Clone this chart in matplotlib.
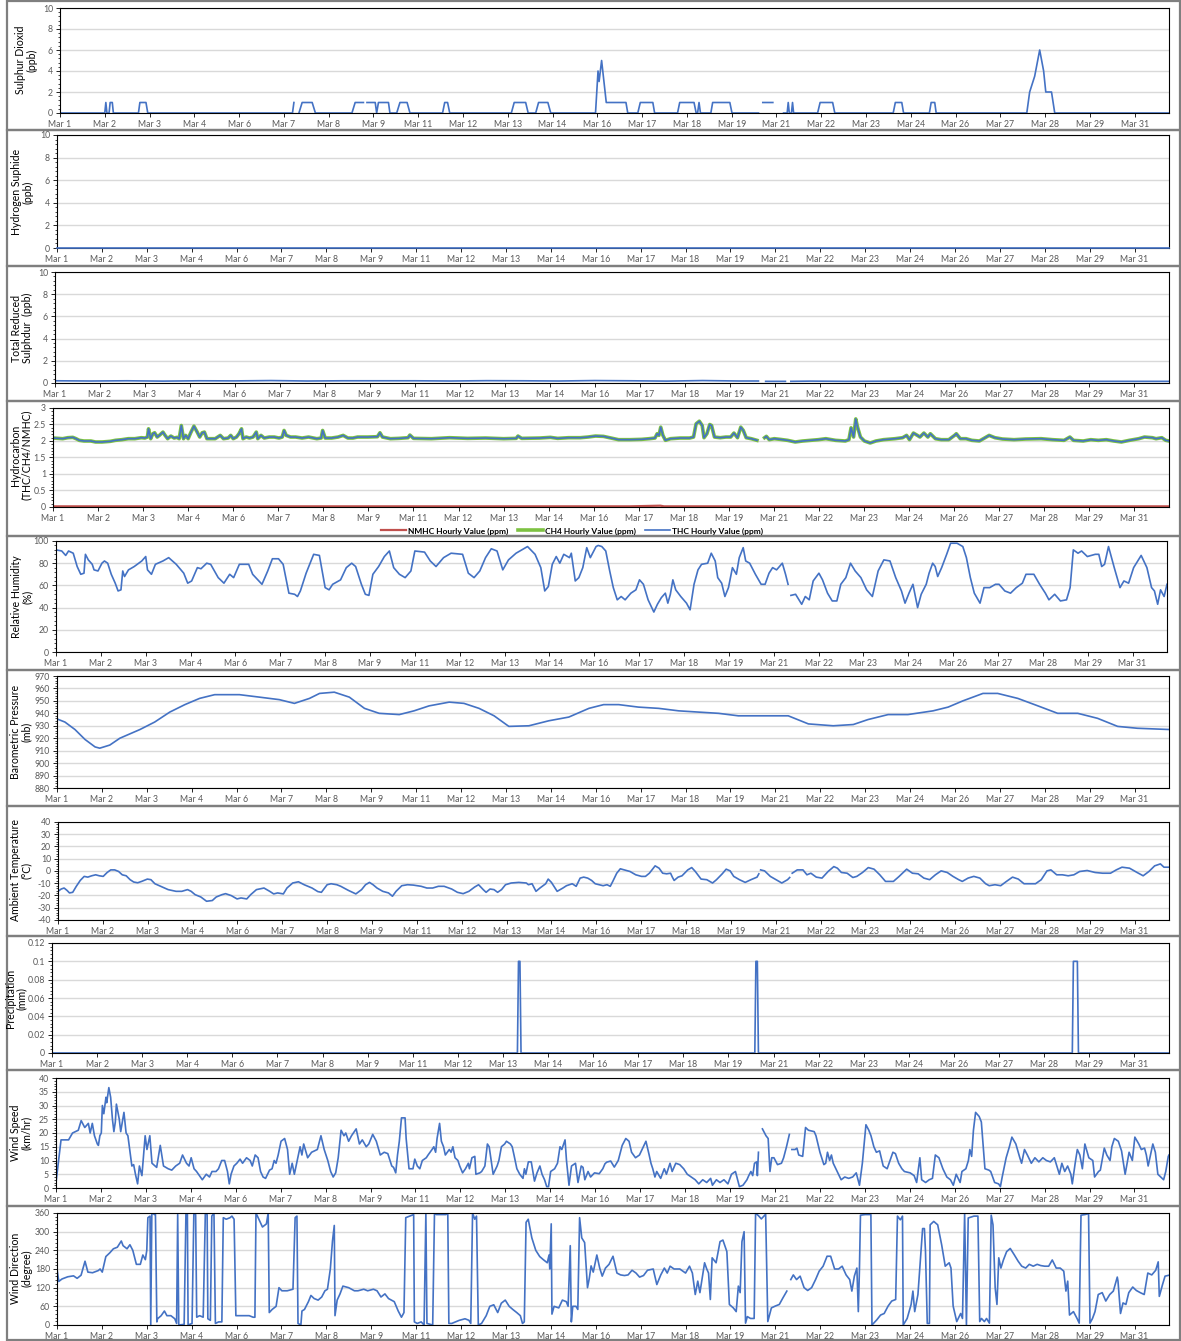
import numpy as np
import matplotlib

matplotlib.use("Agg")
import matplotlib.pyplot as plt
from matplotlib.patches import Rectangle
from matplotlib.ticker import AutoMinorLocator, FuncFormatter

W, H = 1181, 1341
nan = np.nan

# time axis: days since Mar 1 00:00, hourly data up to Mar 31 23:00
X_END = 30.96
TICK_DAYS = [i * 1.25 for i in range(25)]
XTICK_LABELS = ["Mar 1", "Mar 2", "Mar 3", "Mar 4", "Mar 6", "Mar 7", "Mar 8", "Mar 9",
                "Mar 11", "Mar 12", "Mar 13", "Mar 14", "Mar 16", "Mar 17", "Mar 18",
                "Mar 19", "Mar 21", "Mar 22", "Mar 23", "Mar 24", "Mar 26", "Mar 27",
                "Mar 28", "Mar 29", "Mar 31"]

# Sulphur dioxide (ppb)
so2_t = [0, 1.25, 1.28, 1.31, 1.37, 1.40, 1.46, 1.49, 2.19, 2.23, 2.40, 2.45,
         6.49, 6.53, 6.60, 6.67, 6.76, 7.04, 7.13, 8.15, 8.24, 8.47, 8.52, 8.57, 8.80,
         8.84, 8.89, 9.17, 9.21, 9.40, 9.49, 9.69, 9.77, 10.68, 10.74, 10.82, 10.88,
         12.60, 12.68, 13.00, 13.07, 13.28, 13.36, 13.62, 13.70,
         14.95, 15.02, 15.05, 15.12, 15.25, 15.80, 15.85, 16.13, 16.20, 16.55, 16.60,
         17.24, 17.30, 17.70, 17.76, 17.80, 17.84, 17.88, 18.17, 18.22, 18.70, 18.76,
         19.50, 19.56, 19.62, 19.90, 20.00, 20.20, 20.30, 20.33, 20.36, 20.42, 20.45, 20.48,
         21.15, 21.22, 21.57, 21.63, 23.26, 23.32, 23.50, 23.55, 24.27, 24.32, 24.42, 24.46,
         26.99, 27.07, 27.21, 27.35, 27.46, 27.52, 27.68, 27.77, 30.96]
so2_v = [0, 0, 1, 0, 0, 1, 1, 0, 0, 1, 1, 0,
         0, 1, nan, 0, 1, 1, 0, 0, 1, 1, nan, 1, 1,
         0, 1, 1, 0, 0, 1, 1, 0, 0, 1, 1, 0,
         0, 1, 1, 0, 0, 1, 1, 0,
         0, 4, 3, 5, 1, 1, 0, 0, 1, 1, 0,
         0, 1, 1, 0, 0, 1, 0, 0, 1, 1, 0,
         0, nan, 1, 1, nan, 0, 0, 1, 0, 0, 1, 0,
         0, 1, 1, 0, 0, 1, 1, 0, 0, 1, 1, 0,
         0, 2, 3.5, 6, 4, 2, 2, 0, 0]

# Hydrogen sulphide (ppb)
h2s_t = [0, 30.96]
h2s_v = [0, 0]

# Total reduced sulphur (ppb)
trs_t = [0, 1, 2, 3, 4, 5, 6, 7, 8, 9, 10, 11, 12, 13, 14, 15, 16, 17, 18, 19, 19.55,
         19.65, 19.75, 20.30, 20.38, 20.45, 21, 22, 23, 24, 25, 26, 27, 28, 29, 30, 30.96]
trs_v = [0.2, 0.18, 0.2, 0.17, 0.2, 0.19, 0.22, 0.18, 0.2, 0.2, 0.2, 0.18, 0.21, 0.2,
         0.18, 0.22, 0.2, 0.17, 0.22, 0.18, 0.18, nan, 0.15, 0.15, nan, 0.15, 0.17, 0.15,
         0.16, 0.17, 0.15, 0.14, 0.16, 0.18, 0.15, 0.15, 0.15]

# Hydrocarbons (ppm): CH4 and THC sit on top of each other, NMHC near zero
hc_t = [0.00, 0.27, 0.41, 0.55, 0.64, 0.73, 0.86, 1.05, 1.18, 1.36, 1.59, 1.73, 1.91,
        2.09, 2.27, 2.45, 2.55, 2.62, 2.65, 2.71, 2.77, 2.82, 2.89, 2.95, 3.05, 3.11,
        3.18, 3.27, 3.36, 3.44, 3.50, 3.56, 3.62, 3.68, 3.75, 3.82, 3.91, 4.00, 4.07,
        4.14, 4.20, 4.27, 4.38, 4.50, 4.64, 4.73, 4.86, 4.93, 5.00, 5.09, 5.16, 5.23,
        5.27, 5.36, 5.45, 5.55, 5.64, 5.68, 5.77, 5.86, 6.00, 6.14, 6.27, 6.36, 6.41,
        6.47, 6.59, 6.73, 6.91, 7.09, 7.32, 7.44, 7.48, 7.55, 7.73, 7.91, 8.05, 8.18,
        8.32, 8.45, 8.73, 9.00, 9.07, 9.14, 9.27, 9.36, 9.60, 9.85, 9.90, 10.00, 10.50,
        11.00, 11.50, 12.00, 12.50, 12.85, 12.90, 13.00, 13.50, 13.80, 14.00, 14.30,
        14.63, 14.84, 15.05, 15.27, 15.48, 15.69, 16.01, 16.33, 16.54, 16.70, 16.76,
        16.81, 16.86, 16.92, 16.99, 17.13, 17.40, 17.66, 17.77, 17.84, 17.93, 18.01,
        18.06, 18.14, 18.22, 18.27, 18.35, 18.51, 18.67, 18.80, 18.89, 18.99, 19.08,
        19.15, 19.23, 19.37, 19.53, 19.63, 19.74, 19.79, 19.87, 20.01, 20.17, 20.38,
        20.59, 20.80, 21.02, 21.23, 21.44, 21.71, 21.98, 22.08, 22.14, 22.21, 22.27,
        22.32, 22.40, 22.51, 22.67, 22.83, 23.04, 23.36, 23.57, 23.68, 23.76, 23.87,
        23.98, 24.05, 24.16, 24.27, 24.34, 24.48, 24.64, 24.85, 25.01, 25.06, 25.17,
        25.33, 25.49, 25.70, 25.86, 25.97, 26.13, 26.34, 26.66, 26.98, 27.41, 27.73,
        28.05, 28.21, 28.31, 28.58, 28.79, 29.00, 29.22, 29.43, 29.64, 29.86, 30.12,
        30.28, 30.50, 30.60, 30.76, 30.87, 30.96]
hc_v = [2.09, 2.07, 2.10, 2.11, 2.07, 2.02, 2.00, 2.00, 1.97, 1.97, 1.99, 2.02, 2.04,
        2.07, 2.07, 2.10, 2.09, 2.12, 2.37, 2.07, 2.22, 2.25, 2.12, 2.17, 2.27, 2.17,
        2.07, 2.15, 2.09, 2.11, 2.07, 2.47, 2.07, 2.17, 2.07, 2.25, 2.45, 2.27, 2.12,
        2.25, 2.27, 2.07, 2.07, 2.07, 2.17, 2.07, 2.09, 2.17, 2.07, 2.12, 2.22, 2.37,
        2.07, 2.12, 2.09, 2.12, 2.27, 2.07, 2.17, 2.09, 2.12, 2.12, 2.09, 2.12, 2.32,
        2.17, 2.12, 2.12, 2.09, 2.12, 2.07, 2.09, 2.32, 2.09, 2.09, 2.12, 2.17, 2.09,
        2.09, 2.12, 2.12, 2.13, 2.25, 2.12, 2.09, 2.07, 2.08, 2.10, 2.18, 2.08, 2.07,
        2.10, 2.08, 2.09, 2.07, 2.08, 2.15, 2.08, 2.09, 2.11, 2.08, 2.10,
        2.10, 2.12, 2.15, 2.14, 2.09, 2.04, 2.04, 2.05, 2.07, 2.09, 2.22,
        2.17, 2.42, 2.17, 2.02, 2.07, 2.09, 2.09, 2.12, 2.52, 2.60, 2.47,
        2.10, 2.22, 2.50, 2.47, 2.12, 2.10, 2.12, 2.12, 2.24, 2.10, 2.42,
        2.32, 2.10, 2.07, 2.02, nan, 2.10, 2.14, 2.04, 2.07, 2.05, 2.02,
        1.97, 2.00, 2.02, 2.04, 2.07, 2.02, 2.00, 2.04, 2.40, 2.12, 2.67,
        2.42, 2.12, 2.00, 1.94, 2.00, 2.04, 2.07, 2.10, 2.17, 2.04, 2.24,
        2.17, 2.12, 2.24, 2.12, 2.22, 2.07, 2.04, 2.04, 2.17, 2.22, 2.07,
        2.07, 2.02, 2.00, 2.10, 2.17, 2.10, 2.06, 2.04, 2.06, 2.07, 2.04,
        2.02, 2.12, 2.02, 2.00, 2.04, 2.02, 2.04, 2.00, 1.97, 2.02, 2.07,
        2.12, 2.10, 2.07, 2.10, 2.02, 2.00]
nmhc_t = [0, 8, 16, 16.85, 16.95, 24, 30.96]
nmhc_v = [0.02, 0.02, 0.02, 0.04, 0.02, 0.02, 0.02]

# Relative humidity (%)
rh_t = [0.00, 0.16, 0.27, 0.35, 0.48, 0.59, 0.69, 0.78, 0.82, 0.90, 1.01, 1.06, 1.17,
        1.28, 1.35, 1.44, 1.54, 1.65, 1.73, 1.81, 1.86, 1.91, 2.02, 2.18, 2.39, 2.50,
        2.55, 2.66, 2.77, 2.98, 3.14, 3.35, 3.56, 3.67, 3.78, 3.94, 4.04, 4.20, 4.31,
        4.52, 4.68, 4.84, 4.95, 5.11, 5.37, 5.48, 5.74, 5.90, 6.03, 6.20, 6.33, 6.49,
        6.65, 6.73, 6.81, 6.97, 7.18, 7.34, 7.50, 7.61, 7.71, 7.82, 7.93, 8.09, 8.24,
        8.35, 8.51, 8.62, 8.72, 8.83, 8.99, 9.15, 9.29, 9.41, 9.57, 9.73, 9.89, 10.00,
        10.27, 10.43, 10.59, 10.80, 11.01, 11.33, 11.49, 11.65, 11.81, 11.97, 12.13,
        12.29, 12.45, 12.61, 12.82, 13.14, 13.35, 13.51, 13.62, 13.72, 13.83, 13.94,
        14.04, 14.15, 14.31, 14.36, 14.47, 14.57, 14.68, 14.79, 14.89, 15.05,
        15.11, 15.21, 15.32, 15.43, 15.53, 15.64, 15.75, 15.86, 16.02, 16.16, 16.26,
        16.37, 16.50, 16.66, 16.76, 16.87, 16.98, 17.05, 17.12, 17.19, 17.27, 17.41,
        17.57, 17.67, 17.78, 17.89, 17.99, 18.16, 18.26, 18.37, 18.44, 18.55, 18.64,
        18.74, 18.85, 18.96, 19.04, 19.15, 19.22, 19.33, 19.49, 19.65, 19.76, 19.87,
        19.97, 20.08, 20.24, 20.33, 20.40, 20.44, 20.48, 20.61, 20.78, 20.88, 20.99,
        21.10, 21.26, 21.36, 21.50, 21.63, 21.76, 21.87, 22.01, 22.14, 22.27, 22.43,
        22.59, 22.75, 22.91, 23.07, 23.24, 23.40, 23.56, 23.66, 23.77, 23.88, 24.01,
        24.11, 24.25, 24.33, 24.43, 24.50, 24.57, 24.68, 24.82, 24.93, 25.11, 25.27,
        25.37, 25.48, 25.59, 25.75, 25.86, 26.02, 26.18, 26.28, 26.44, 26.60, 26.76,
        26.93, 27.03, 27.25, 27.41, 27.57, 27.67, 27.83, 27.99, 28.16, 28.26, 28.35,
        28.48, 28.58, 28.74, 28.96, 29.06, 29.14, 29.22, 29.33, 29.49, 29.65, 29.76,
        29.89, 30.03, 30.24, 30.40, 30.53, 30.61, 30.70, 30.78, 30.88, 30.96]
rh_v = [92, 91, 87, 91, 89, 77, 70, 71, 88, 83, 79, 74, 73,
        80, 82, 80, 70, 62, 55, 56, 73, 68, 74, 77, 82, 86,
        74, 70, 79, 82, 85, 79, 71, 62, 64, 76, 75, 80, 79,
        67, 62, 70, 67, 79, 79, 70, 61, 73, 84, 84, 79, 53,
        52, 50, 55, 71, 88, 87, 58, 56, 61, 63, 65, 76, 80,
        77, 61, 52, 51, 70, 77, 86, 91, 76, 70, 67, 73, 91,
        90, 82, 77, 85, 89, 88, 71, 67, 73, 85, 93,
        91, 74, 83, 89, 95, 88, 76, 55, 59, 79, 86,
        80, 88, 85, 89, 64, 67, 76, 94, 85, 95,
        96, 95, 91, 73, 58, 47, 50, 47, 53, 56, 65,
        61, 47, 36, 43, 49, 53, 44, 52, 65, 56, 50,
        44, 38, 61, 74, 79, 80, 89, 82, 67, 62, 50,
        58, 76, 70, 85, 94, 82, 80, 70, 61, 61, 71,
        76, 74, 80, 70, 61, nan, 51, 52, 43, 50, 47,
        64, 71, 65, 53, 46, 46, 61, 67, 80, 73, 67,
        56, 50, 73, 83, 82, 67, 55, 44, 53, 61, 40,
        52, 61, 71, 80, 77, 68, 76, 88, 98, 98, 95,
        85, 67, 53, 44, 58, 58, 61, 61, 55, 53, 58,
        62, 70, 70, 61, 53, 47, 52, 46, 47, 58, 92,
        89, 91, 86, 88, 88, 77, 79, 95, 76, 58, 64,
        62, 76, 87, 76, 58, 55, 43, 56, 50, 61]

# Barometric pressure (mb)
bp_t = [0, 0.22, 0.50, 0.78, 1.06, 1.19, 1.47, 1.75, 2.31, 2.72, 3.14, 3.56, 3.97,
        4.39, 5.08, 5.64, 6.19, 6.61, 7.03, 7.31, 7.72, 8.14, 8.56, 8.97, 9.53, 9.94,
        10.36, 10.92, 11.33, 11.75, 12.17, 12.58, 13.14, 13.69, 14.25, 14.81, 15.22,
        15.64, 16.19, 16.75, 17.31, 17.86, 18.42, 18.97, 19.67, 20.36, 20.92, 21.61,
        22.17, 22.58, 23.14, 23.69, 24.39, 24.81, 25.22, 25.78, 26.19, 26.75, 27.31,
        27.86, 28.42, 28.97, 29.53, 30.08, 30.96]
bp_v = [935.5, 933, 927, 919, 913, 912, 914.5, 920, 927, 933, 941, 947, 952,
        955, 955, 953, 951, 948, 952, 956, 957, 953, 944, 940, 939, 942,
        946, 949, 948, 944, 938, 929.5, 930, 934, 937, 944, 947,
        947, 945, 944, 942, 941, 940, 938, 938, 938, 931.5, 930,
        931, 935, 939, 939, 942, 945, 950, 956, 956, 952, 946,
        940, 940, 936, 929.5, 928, 927]

# Ambient temperature (deg C)
temp_t = [0, 0.09, 0.17, 0.25, 0.32, 0.41, 0.51, 0.62, 0.73, 0.83, 0.94, 1.05, 1.15,
          1.26, 1.37, 1.47, 1.58, 1.69, 1.79, 1.90, 2.01, 2.11, 2.22, 2.33, 2.49, 2.59,
          2.70, 2.86, 3.07, 3.29, 3.45, 3.61, 3.71, 3.82, 3.98, 4.14, 4.30, 4.41, 4.57,
          4.67, 4.83, 4.99, 5.10, 5.26, 5.37, 5.53, 5.74, 5.90, 6.01, 6.12, 6.28, 6.38,
          6.54, 6.70, 6.86, 7.08, 7.24, 7.34, 7.50, 7.61, 7.77, 7.88, 8.09, 8.30, 8.46,
          8.57, 8.68, 8.78, 8.89, 9.05, 9.21, 9.32, 9.42, 9.58, 9.74, 9.90, 10.12, 10.28,
          10.44, 10.60, 10.76, 10.97, 11.13, 11.29, 11.45, 11.61, 11.72, 11.85, 11.93,
          12.04, 12.15, 12.25, 12.36, 12.47, 12.63, 12.84, 13.05, 13.11, 13.21, 13.32,
          13.43, 13.59, 13.66, 13.75, 13.91, 14.07, 14.17, 14.33, 14.44, 14.55, 14.65,
          14.76, 14.87, 14.97, 15.08, 15.19, 15.30, 15.39, 15.46, 15.57, 15.67, 15.78,
          15.94, 16.10, 16.26, 16.37, 16.48, 16.64, 16.75, 16.85, 16.96, 17.07, 17.12,
          17.17, 17.28, 17.39, 17.55, 17.66, 17.76, 17.92, 18.08, 18.24, 18.35, 18.51,
          18.62, 18.73, 18.83, 18.99, 19.15, 19.31, 19.48, 19.53, 19.555, 19.58, 19.69,
          19.85, 20.01, 20.17, 20.33, 20.39, 20.425, 20.46, 20.60, 20.76, 20.87, 20.98,
          21.13, 21.29, 21.46, 21.62, 21.72, 21.83, 21.99, 22.15, 22.26, 22.42, 22.58,
          22.74, 22.90, 23.06, 23.28, 23.44, 23.65, 23.81, 23.97, 24.13, 24.29, 24.45,
          24.61, 24.78, 24.94, 25.10, 25.20, 25.36, 25.52, 25.69, 25.85, 25.95, 26.11,
          26.27, 26.43, 26.60, 26.76, 26.92, 27.08, 27.24, 27.40, 27.56, 27.67, 27.83,
          27.99, 28.15, 28.31, 28.47, 28.68, 28.90, 29.11, 29.33, 29.49, 29.65, 29.86,
          30.07, 30.24, 30.40, 30.56, 30.72, 30.82, 30.96]
temp_v = [-16.6, -14.7, -13.9, -15.8, -17.9, -17.4, -12.5, -7.7, -4.4, -5.0, -3.9, -3.1, -3.9,
          -4.4, -1.2, 0.9, 0.9, -0.4, -3.1, -3.9, -7.1, -9.0, -9.6, -8.5, -6.6, -7.1,
          -10.4, -12.5, -15.2, -16.6, -16.6, -15.2, -16.6, -19.3, -21.2, -24.7, -24.1, -21.2, -19.3,
          -18.5, -20.1, -22.8, -22.0, -22.8, -19.3, -15.2, -13.9, -16.6, -18.7, -17.9, -18.7, -13.9,
          -9.8, -8.8, -11.2, -13.9, -16.8, -17.4, -11.2, -10.4, -11.2, -12.5, -15.8, -18.7, -15.2,
          -11.2, -9.3, -11.2, -13.9, -16.6, -17.9, -20.6, -16.6, -12.0, -11.2, -11.5, -12.5, -13.9,
          -13.9, -12.5, -12.5, -14.7, -17.4, -18.5, -16.6, -13.1, -11.2, -15.2, -17.4,
          -14.7, -15.2, -17.4, -15.2, -11.2, -9.8, -9.3, -9.8, -11.2, -10.4, -16.6,
          -13.9, -10.4, -6.6, -9.3, -16.6, -13.9, -12.0, -10.4, -12.5, -5.8, -5.0,
          -5.8, -7.7, -10.4, -11.2, -12.0, -11.2, -12.5, -8.5, -1.8, 1.8, 0.9,
          -0.4, -3.1, -4.4, -4.4, -1.8, 4.2, 2.3, -1.8, -2.3, -1.8, -5.0,
          -7.7, -5.0, -3.9, 0.9, 2.8, -0.4, -6.6, -7.1, -9.8, -7.1, -2.3,
          1.5, 0.1, -4.4, -7.1, -9.3, -7.1, -5.0, -2.3, nan, 0.9, 0.1,
          -4.4, -7.1, -9.8, -7.1, -5.3, nan, -1.8, 0.9, 0.9, -3.1, -1.8,
          -5.0, -5.8, -0.4, 3.6, 2.3, -1.2, -1.8, -5.3, -4.4, -1.2, 2.8,
          1.5, -3.1, -8.5, -8.5, -4.4, 1.5, -1.8, -2.3, -5.8, -7.1, -3.1,
          0.1, -1.2, -4.4, -7.1, -8.5, -5.8, -4.4, -5.8, -10.4, -12.0, -11.2,
          -12.0, -8.5, -5.0, -6.6, -10.4, -10.4, -10.4, -7.1, 0.1, 0.9, -3.1,
          -3.1, -3.9, -3.1, -0.4, 0.4, -1.2, -1.8, -1.8, 0.9, 3.1, 2.3,
          -1.2, -3.9, -0.4, 4.2, 5.8, 3.1, 3.1]

# Precipitation (mm)
precip_t = [0, 12.90, 12.93, 12.97, 13.00, 19.48, 19.51, 19.55, 19.58,
            28.28, 28.31, 28.42, 28.45, 30.96]
precip_v = [0, 0, 0.1, 0.1, 0, 0, 0.1, 0.1, 0, 0, 0.1, 0.1, 0, 0]

# Wind speed (km/hr)
ws_t = [0.00, 0.14, 0.35, 0.46, 0.62, 0.70, 0.80, 0.90, 0.95, 1.01, 1.07, 1.15, 1.18,
        1.22, 1.26, 1.29, 1.33, 1.39, 1.41, 1.47, 1.52, 1.57, 1.61, 1.65, 1.68, 1.76,
        1.80, 1.89, 1.95, 2.00, 2.11, 2.16, 2.21, 2.27, 2.32, 2.39, 2.48, 2.53, 2.61,
        2.67, 2.80, 2.90, 2.99, 3.12, 3.22, 3.33, 3.44, 3.52, 3.63, 3.70, 3.76, 3.84,
        3.91, 4.07, 4.18, 4.27, 4.34, 4.45, 4.52, 4.61, 4.69, 4.77, 4.82, 4.87, 4.95,
        5.03, 5.12, 5.19, 5.30, 5.40, 5.46, 5.54, 5.62, 5.69, 5.76, 5.83, 5.94, 6.01,
        6.07, 6.12, 6.18, 6.26, 6.36, 6.44, 6.50, 6.57, 6.63, 6.71, 6.79, 6.84, 6.89,
        7.00, 7.11, 7.27, 7.37, 7.46, 7.56, 7.64, 7.71, 7.78, 7.85, 7.93, 8.01, 8.06,
        8.14, 8.22, 8.35, 8.44, 8.52, 8.63, 8.70, 8.81, 8.91, 9.02, 9.13, 9.23, 9.34,
        9.39, 9.45, 9.50, 9.55, 9.61, 9.71, 9.74, 9.82, 9.93, 9.98, 10.05, 10.12, 10.19,
        10.30, 10.35, 10.46, 10.51, 10.56, 10.60, 10.67, 10.72, 10.78, 10.83, 10.94,
        10.99, 11.04, 11.10, 11.18, 11.23, 11.31, 11.39, 11.47, 11.50, 11.57, 11.65,
        11.68, 11.79, 11.84, 11.93, 12.00, 12.05, 12.16, 12.27, 12.32, 12.39, 12.48,
        12.53, 12.64, 12.69, 12.74, 12.82, 12.90, 12.99, 13.03, 13.07, 13.14, 13.22,
        13.31, 13.38, 13.46, 13.52, 13.59, 13.65, 13.70, 13.76, 13.87, 13.95, 14.02,
        14.07, 14.16, 14.20, 14.27, 14.34, 14.45, 14.52, 14.61, 14.66, 14.71, 14.80,
        14.87, 14.98, 15.11, 15.21, 15.27, 15.32, 15.43, 15.53, 15.64, 15.75, 15.85,
        15.94, 16.01, 16.12, 16.23, 16.34, 16.41, 16.50, 16.55, 16.60, 16.66, 16.71,
        16.82, 16.92, 16.98, 17.08, 17.14, 17.24, 17.35, 17.46, 17.56, 17.78, 17.88,
        17.99, 18.10, 18.21, 18.26, 18.37, 18.47, 18.58, 18.69, 18.79, 18.90, 19.01,
        19.11, 19.22, 19.27, 19.33, 19.38, 19.43, 19.49, 19.51, 19.54, 19.60, 19.65,
        19.75, 19.81, 19.86, 19.91, 19.97, 20.07, 20.18, 20.24, 20.32, 20.40, 20.44,
        20.47, 20.56, 20.61, 20.66, 20.77, 20.85, 20.93, 21.09, 21.14, 21.25, 21.30,
        21.36, 21.41, 21.46, 21.52, 21.57, 21.62, 21.73, 21.84, 21.94, 22.05, 22.16,
        22.26, 22.35, 22.43, 22.53, 22.61, 22.67, 22.75, 22.82, 22.91, 23.01, 23.12,
        23.28, 23.35, 23.44, 23.53, 23.60, 23.76, 23.87, 23.94, 24.03, 24.08, 24.19,
        24.29, 24.38, 24.46, 24.56, 24.67, 24.78, 24.88, 24.96, 25.04, 25.15, 25.20,
        25.31, 25.38, 25.42, 25.47, 25.52, 25.58, 25.68, 25.74, 25.84, 25.95, 26.00,
        26.11, 26.22, 26.27, 26.32, 26.43, 26.52, 26.59, 26.70, 26.81, 26.86, 26.94,
        27.02, 27.13, 27.23, 27.34, 27.45, 27.55, 27.66, 27.77, 27.91, 27.98, 28.06,
        28.14, 28.23, 28.27, 28.35, 28.41, 28.48, 28.55, 28.62, 28.73, 28.84, 28.89,
        29.00, 29.05, 29.16, 29.23, 29.32, 29.37, 29.44, 29.55, 29.64, 29.74, 29.85,
        29.94, 30.01, 30.12, 30.19, 30.28, 30.33, 30.38, 30.51, 30.58, 30.65, 30.73,
        30.81, 30.87, 30.94, 30.96]
ws_v = [2, 17.5, 17.5, 20, 21, 24.5, 22, 23.5, 20, 23.5, 19, 16, 15.5,
        19, 20, 30, 27, 33, 31, 36.5, 33, 25, 20.5, 24, 30.5, 25,
        20.5, 27.5, 20, 19, 8, 8.5, 5, 1.5, 8, 4.5, 19, 14, 19,
        9, 7.5, 15.5, 8, 7, 6.5, 8, 9, 12, 9, 8, 11, 7,
        6, 3, 5, 4, 6, 6, 7, 10, 10, 6, 1.5, 5, 8,
        9, 10.5, 9, 11, 10, 8, 12, 11, 6, 4, 3.5, 6.5, 7,
        10, 9, 12, 17, 18, 14, 5, 9, 5, 10, 15, 12, 16,
        11, 13, 14, 19, 14, 10, 6, 4, 5.5, 11, 21, 19, 20,
        17, 19, 21.5, 16, 17.5, 15, 16, 19.5, 17, 12, 13, 12.5, 8,
        7.5, 5.5, 12, 17, 25.5, 25.5, 18, 7, 7, 10.5, 8, 7, 10,
        11, 12, 14, 15, 13, 18, 23.5, 17, 15, 12, 14,
        13, 15, 11, 10, 8, 5.5, 7, 9, 7, 11, 11.5,
        5, 5.5, 6, 8, 16, 15, 5, 8, 10, 15, 16,
        17, 16, 15, 12, 7, 5, 3.5, 7, 5, 9.5, 9.5,
        2.5, 5.5, 8, 5, 3, 0.5, 0.5, 6, 7, 9, 15,
        14, 17.5, 10, 1, 8, 9, 2, 8, 7.5, 3, 6,
        4, 5.5, 5.2, 7, 8.8, 9.4, 9.8, 7.6, 10, 15.5, 18,
        17, 13, 11, 12, 15, 17, 12, 9, 7, 4, 6,
        3.5, 7, 5, 9, 6, 9, 8.5, 7, 5, 3, 1.5,
        3, 2, 3.5, 1, 3, 2, 3, 1.5, 5, 6, 0.5,
        1, 3, 4.5, 6, 4.5, 9, 9.5, 4.5, 13, nan, 21.5,
        19, 18, 6, 11, 11, 8.5, 9, 11, 15, 19.5, nan,
        14, 14, 14.5, 12, 11.5, 22, 21, 20.5, 19, 13, 11,
        8.5, 9, 13, 10, 12, 9, 6, 3, 4, 3.5, 4,
        5.5, 1, 9, 23, 21, 19, 15, 13, 13.5, 8, 7,
        13, 12.5, 9, 7, 6, 5.5, 4.5, 2, 11, 3, 2,
        3, 3.5, 12, 11, 7, 4, 3, 1, 5, 2, 6,
        7, 10, 14, 11.5, 21, 27.5, 26, 24, 7, 6.5, 6,
        2, 1.5, 0.5, 4, 11, 15, 18.5, 16, 11, 9, 14,
        12, 9, 11, 9.5, 11, 10, 9.5, 11, 5, 9, 6,
        8, 5, 1.5, 9, 14, 12, 7, 16, 11, 10, 4,
        6, 6.5, 14.5, 12, 10, 15, 18, 17, 13.5, 5, 13,
        10, 18.5, 16, 14, 14.5, 12, 8, 16, 13, 5, 4,
        3, 6, 11.5, 12]

# Wind direction (degree)
wd_t = [0.00, 0.05, 0.14, 0.30, 0.46, 0.56, 0.67, 0.78, 0.86, 0.99, 1.15, 1.20, 1.26,
        1.36, 1.47, 1.57, 1.68, 1.79, 1.84, 1.95, 2.03, 2.11, 2.21, 2.32, 2.39, 2.46,
        2.50, 2.53, 2.59, 2.61, 2.64, 2.67, 2.71, 2.74, 2.78, 2.80, 2.90, 2.99, 3.06,
        3.17, 3.28, 3.33, 3.36, 3.39, 3.54, 3.59, 3.63, 3.65, 3.76, 3.81, 3.86, 3.89,
        3.97, 4.07, 4.13, 4.18, 4.20, 4.27, 4.31, 4.37, 4.41, 4.50, 4.59, 4.63, 4.71,
        4.82, 4.87, 4.93, 4.98, 5.09, 5.24, 5.35, 5.46, 5.51, 5.54, 5.62, 5.72, 5.83,
        5.88, 5.91, 5.99, 6.10, 6.18, 6.26, 6.41, 6.57, 6.63, 6.68, 6.71, 6.79, 6.82,
        6.89, 7.00, 7.07, 7.16, 7.27, 7.37, 7.46, 7.53, 7.61, 7.67, 7.72, 7.74, 7.80,
        7.88, 7.96, 8.12, 8.28, 8.38, 8.54, 8.65, 8.81, 8.91, 9.02, 9.13, 9.23, 9.39,
        9.50, 9.59, 9.66, 9.71, 9.82, 9.93, 9.95, 10.03, 10.14, 10.22, 10.27, 10.30,
        10.46, 10.51, 10.56, 10.83, 10.88, 10.91, 10.99, 11.20, 11.36, 11.47, 11.52,
        11.57, 11.63, 11.68, 11.73, 11.82, 11.95, 12.05, 12.16, 12.27, 12.37, 12.48,
        12.59, 12.69, 12.80, 12.90, 12.96, 13.01, 13.06, 13.12, 13.22, 13.33, 13.44,
        13.54, 13.65, 13.70, 13.72, 13.76, 13.78, 13.84, 13.97, 14.07, 14.18, 14.23,
        14.29, 14.32, 14.36, 14.45, 14.50, 14.55, 14.61, 14.69, 14.77, 14.82, 14.87,
        14.93, 15.03, 15.11, 15.18, 15.27, 15.37, 15.48, 15.59, 15.69, 15.80, 15.90,
        16.01, 16.12, 16.22, 16.33, 16.44, 16.60, 16.70, 16.81, 16.91, 16.99, 17.07,
        17.18, 17.34, 17.50, 17.61, 17.69, 17.77, 17.84, 17.90, 17.95, 18.03, 18.09,
        18.14, 18.19, 18.24, 18.35, 18.46, 18.54, 18.65, 18.72, 18.83, 18.91, 18.97,
        19.02, 19.07, 19.13, 19.17, 19.22, 19.31, 19.41, 19.45, 19.54, 19.61, 19.68,
        19.73, 19.79, 19.89, 20.00, 20.11, 20.21, 20.32, 20.38, 20.43, 20.50, 20.59,
        20.69, 20.80, 20.90, 21.01, 21.12, 21.22, 21.33, 21.44, 21.54, 21.65, 21.76,
        21.86, 21.97, 22.07, 22.13, 22.20, 22.27, 22.31, 22.34, 22.37, 22.50, 22.66,
        22.69, 22.82, 22.93, 23.03, 23.14, 23.24, 23.35, 23.40, 23.48, 23.54, 23.56,
        23.67, 23.78, 23.83, 23.88, 23.97, 24.10, 24.15, 24.18, 24.23, 24.29, 24.31,
        24.41, 24.52, 24.63, 24.73, 24.84, 24.89, 24.95, 25.05, 25.16, 25.21, 25.27,
        25.32, 25.37, 25.53, 25.64, 25.69, 25.74, 25.82, 25.88, 25.96, 26.01, 26.06,
        26.12, 26.17, 26.22, 26.28, 26.35, 26.44, 26.54, 26.65, 26.76, 26.86, 26.97,
        27.07, 27.18, 27.29, 27.39, 27.50, 27.61, 27.71, 27.82, 27.93, 28.03, 28.09,
        28.14, 28.19, 28.30, 28.40, 28.46, 28.51, 28.62, 28.72, 28.76, 28.83, 28.90,
        28.99, 29.10, 29.20, 29.31, 29.41, 29.52, 29.54, 29.61, 29.68, 29.76, 29.84,
        29.95, 30.05, 30.16, 30.27, 30.37, 30.48, 30.59, 30.66, 30.69, 30.78, 30.85,
        30.96]
wd_v = [180, 140, 148, 155, 158, 150, 160, 205, 170, 168, 175, 180, 170,
        220, 232, 245, 250, 270, 255, 245, 258, 240, 195, 195, 225, 210,
        240, 345, 350, 0, 355, 360, 355, 360, 10, 20, 30, 45, 30,
        30, 20, 5, 355, 0, 2, 360, 360, 0, 5, 360, 355, 25,
        30, 25, 360, 355, 20, 15, 350, 360, 5, 10, 10, 345, 340,
        345, 350, 340, 30, 30, 30, 30, 25, 25, 360, 340, 315, 325,
        360, 40, 50, 60, 120, 110, 110, 115, 345, 350, 5, 0, 45,
        50, 75, 95, 85, 80, 90, 110, 115, 180, 270, 320, 30, 80,
        100, 125, 120, 110, 110, 115, 110, 115, 110, 90, 100, 85, 75,
        45, 25, 40, 345, 350, 355, 10, 5, 10, 0, 360, 5,
        0, 360, 355, 355, 360, 5, 5, 15, 20, 15, 5,
        360, 340, 350, 0, 5, 30, 60, 65, 40, 70, 80,
        60, 50, 40, 30, 5, 10, 330, 340, 280, 240, 220,
        210, 200, 225, 180, 325, 35, 60, 55, 80, 75, 60,
        255, 10, 60, 60, 50, 345, 280, 265, 120, 150, 190,
        170, 225, 183, 157, 183, 195, 221, 167, 161, 159, 161,
        176, 167, 154, 159, 176, 180, 130, 161, 183, 167, 189,
        180, 180, 167, 189, 167, 98, 141, 104, 141, 200, 180,
        167, 82, 216, 200, 268, 273, 236, 66, 55, 43, 125,
        104, 268, 300, 6, 27, 21, 21, 360, 350, 341, 350,
        356, 11, 55, 61, 66, 87, 109, nan, 146, 161, 146,
        157, 120, 111, 120, 146, 173, 189, 221, 221, 180, 180,
        189, 161, 146, 109, 157, 183, 43, 173, 353, 355, 355,
        0, 16, 32, 37, 61, 77, 82, 350, 338, 350, 0,
        21, 66, 109, 43, 98, 310, 310, 237, 5, 5, 322,
        333, 322, 258, 189, 200, 183, 61, 11, 37, 21, 358,
        0, 344, 350, 350, 11, 21, 11, 21, 6, 353, 322,
        120, 66, 216, 183, 209, 236, 246, 226, 205, 189, 183,
        195, 189, 195, 191, 189, 189, 209, 183, 183, 173, 109,
        141, 32, 43, 21, 6, 353, 355, 358, 6, 21, 43,
        98, 104, 77, 98, 109, 154, 141, 37, 71, 66, 104,
        122, 111, 104, 98, 167, 161, 176, 203, 92, 130, 157,
        160]

BLUE = "#4472C4"
GREEN = "#7DC242"
RED = "#C0504D"
GRID = "#D9D9D9"
TICK_COLOR = "#595959"
FONT = ["Lato", "DejaVu Sans"]

# panels: plot area in pixels (left, top, right, bottom), y label centre
PANELS = [
    dict(box=(60, 8, 1169, 113), label="Sulphur Dioxid\n(ppb)", lab=(26, 60),
         ylim=(0, 10), yticks=[0, 2, 4, 6, 8, 10]),
    dict(box=(57, 135, 1169, 248), label="Hydrogen Suphide\n(ppb)", lab=(22, 192),
         ylim=(0, 10), yticks=[0, 2, 4, 6, 8, 10]),
    dict(box=(55, 272, 1169, 383), label="Total Reduced\nSulphdur  (ppb)", lab=(22, 328),
         ylim=(0, 10), yticks=[0, 2, 4, 6, 8, 10]),
    dict(box=(53, 408, 1169, 507), label="Hydrocarbon\n(THC/CH4/NMHC)", lab=(21, 455),
         ylim=(0, 3), yticks=[0, 0.5, 1, 1.5, 2, 2.5, 3]),
    dict(box=(56, 541, 1167, 652), label="Relative Humidity\n(%)", lab=(22, 597),
         ylim=(0, 100), yticks=[0, 20, 40, 60, 80, 100]),
    dict(box=(57, 676, 1169, 788), label="Barometric Pressure\n(mb)", lab=(21, 732),
         ylim=(880, 970), yticks=list(range(880, 971, 10))),
    dict(box=(58, 822, 1169, 920), label="Ambient Temperature\n(\u00b0C)", lab=(21, 870),
         ylim=(-40, 40), yticks=list(range(-40, 41, 10))),
    dict(box=(52, 943, 1169, 1053), label="Precipitation\n(mm)", lab=(16, 998),
         ylim=(0, 0.12), yticks=[0, 0.02, 0.04, 0.06, 0.08, 0.1, 0.12]),
    dict(box=(56, 1078, 1169, 1188), label="Wind Speed\n(km/hr)", lab=(21, 1133),
         ylim=(0, 40), yticks=list(range(0, 41, 5))),
    dict(box=(57, 1213, 1169, 1325), label="Wind Direction\n(degree)", lab=(21, 1268),
         ylim=(0, 360), yticks=list(range(0, 361, 60))),
]
FRAME_LINES = [1, 130, 266, 401, 536, 670, 806, 936, 1070, 1206, 1340]


def make_axes(fig, panel):
    left, top, right, bottom = panel["box"]
    ax = fig.add_axes([left / W, 1 - bottom / H, (right - left) / W, (bottom - top) / H])
    ax.set_xlim(0, X_END)
    ax.set_ylim(*panel["ylim"])
    ax.set_yticks(panel["yticks"])
    ax.yaxis.set_major_formatter(FuncFormatter(lambda v, _: f"{v:g}"))
    ax.yaxis.set_minor_locator(AutoMinorLocator(5))
    ax.set_xticks(TICK_DAYS)
    ax.set_xticklabels(XTICK_LABELS)
    ax.grid(axis="y", color=GRID, linewidth=1.0)
    ax.set_axisbelow(True)
    for spine in ax.spines.values():
        spine.set_color("black")
        spine.set_linewidth(0.8)
    ax.tick_params(axis="both", which="major", labelsize=6.3, colors="black",
                   labelcolor=TICK_COLOR, length=3, width=0.6, pad=2)
    ax.tick_params(axis="y", which="minor", length=1.8, width=0.5, colors="black")
    for lab in ax.get_xticklabels() + ax.get_yticklabels():
        lab.set_family(FONT)
    fig.text(panel["lab"][0] / W, 1 - panel["lab"][1] / H, panel["label"], rotation=90,
             ha="center", va="center", fontsize=7.6, family=FONT, linespacing=1.05)
    return ax


def draw_frames(fig):
    for top, bottom in zip(FRAME_LINES[:-1], FRAME_LINES[1:]):
        rect = Rectangle((7 / W, 1 - bottom / H), (1180 - 7) / W, (bottom - top) / H,
                         transform=fig.transFigure, fill=False, edgecolor="#7F7F7F",
                         linewidth=1.6, zorder=0)
        fig.add_artist(rect)


def main():
    fig = plt.figure(figsize=(W / 100, H / 100), dpi=100)
    fig.patch.set_facecolor("white")
    draw_frames(fig)

    axes = [make_axes(fig, p) for p in PANELS]
    kw = dict(color=BLUE, linewidth=1.2, solid_joinstyle="round")

    axes[0].plot(so2_t, so2_v, **kw)
    axes[1].plot(h2s_t, h2s_v, **kw, clip_on=False, zorder=3)
    axes[2].plot(trs_t, trs_v, **kw)

    ax = axes[3]
    l1, = ax.plot(nmhc_t, nmhc_v, color=RED, linewidth=1.6)
    l2, = ax.plot(hc_t, hc_v, color=GREEN, linewidth=2.6)
    l3, = ax.plot(hc_t, hc_v, color=BLUE, linewidth=1.2)
    fig.legend([l1, l2, l3],
               ["NMHC Hourly Value (ppm)", "CH4 Hourly Value (ppm)", "THC Hourly Value (ppm)"],
               loc="center", bbox_to_anchor=(572 / W, 1 - 531 / H), ncol=3,
               frameon=False, handlelength=3.0, columnspacing=1.2, handletextpad=0.2,
               prop=dict(family=FONT, size=6.0, weight="bold"))

    axes[4].plot(rh_t, rh_v, **kw)
    axes[5].plot(bp_t, bp_v, **kw)
    axes[6].plot(temp_t, temp_v, **kw)
    axes[7].plot(precip_t, precip_v, **kw)
    axes[8].plot(ws_t, ws_v, **kw)
    axes[9].plot(wd_t, wd_v, **kw)

    fig.savefig("out.png", dpi=100)
    plt.close(fig)


if __name__ == "__main__":
    main()
